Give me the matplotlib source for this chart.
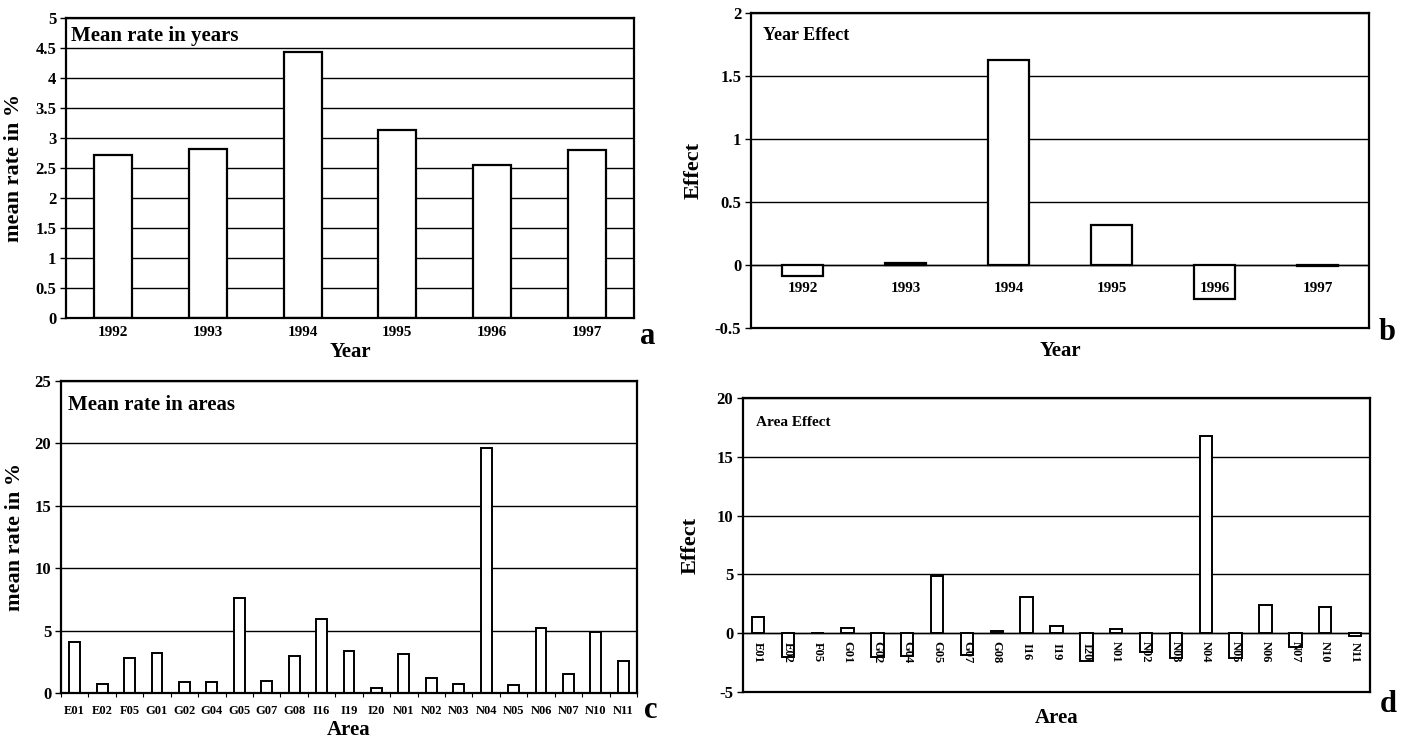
import numpy as np
import matplotlib.pyplot as plt

# data
years = ['1992', '1993', '1994', '1995', '1996', '1997']
year_mean = [2.72, 2.82, 4.44, 3.13, 2.55, 2.80]
year_effect = [-0.09, 0.015, 1.63, 0.32, -0.27, -0.01]

areas = ['E01', 'E02', 'F05', 'G01', 'G02', 'G04', 'G05', 'G07', 'G08', 'I16', 'I19',
         'I20', 'N01', 'N02', 'N03', 'N04', 'N05', 'N06', 'N07', 'N10', 'N11']
area_mean = [4.1, 0.75, 2.8, 3.2, 0.85, 0.9, 7.65, 0.95, 3.0, 5.9, 3.4,
             0.4, 3.1, 1.2, 0.7, 19.6, 0.65, 5.2, 1.55, 4.9, 2.55]
area_effect = [1.35, -2.05, 0.0, 0.4, -2.0, -1.95, 4.85, -1.85, 0.18, 3.1, 0.6,
               -2.4, 0.32, -1.6, -2.1, 16.8, -2.15, 2.4, -1.2, 2.2, -0.25]

plt.rcParams['font.family'] = ['Liberation Serif', 'DejaVu Serif']
plt.rcParams['font.weight'] = 'bold'

W, H = 1405, 741
fig = plt.figure(figsize=(W / 100, H / 100), dpi=100)


def box(x0, y0, x1, y1):
    # pixel box -> figure fraction
    return [x0 / W, 1 - y1 / H, (x1 - x0) / W, (y1 - y0) / H]


def style(ax, yticks):
    ax.set_yticks(yticks)
    ax.set_yticklabels([('%g' % v) for v in yticks], fontsize=12, fontweight='bold')
    ax.yaxis.grid(True, color='black', linewidth=1.0)
    ax.set_axisbelow(True)
    for s in ax.spines.values():
        s.set_linewidth(1.6)
    ax.tick_params(axis='y', length=4, width=1, pad=3)


# ---- a: mean rate in years
ax = fig.add_axes(box(66, 18, 634, 318))
x = np.arange(len(years))
ax.bar(x, year_mean, width=0.4, color='white', edgecolor='black', linewidth=1.6, zorder=2)
ax.set_xlim(-0.5, len(years) - 0.5)
ax.set_ylim(0, 5)
style(ax, np.arange(0, 5.01, 0.5))
ax.set_xticks(x)
ax.set_xticklabels(years, fontsize=11, fontweight='bold')
ax.tick_params(axis='x', length=0, pad=6)
ax.set_xlabel('Year', fontsize=15, fontweight='bold', labelpad=2)
ax.set_ylabel('mean rate in %', fontsize=16, fontweight='bold')
ax.yaxis.set_label_coords(-0.074, 0.5)
ax.text(0.008, 0.975, 'Mean rate in years', transform=ax.transAxes, fontsize=15,
        fontweight='bold', va='top', ha='left')
fig.text(648 / W, 1 - 337 / H, 'a', fontsize=22, fontweight='bold', ha='center', va='center')

# ---- b: year effect
ax = fig.add_axes(box(751, 13, 1369, 328))
ax.bar(x, year_effect, width=0.4, color='white', edgecolor='black', linewidth=1.6, zorder=2)
ax.set_xlim(-0.5, len(years) - 0.5)
ax.set_ylim(-0.5, 2)
style(ax, np.arange(-0.5, 2.01, 0.5))
ax.axhline(0, color='black', linewidth=1.0, zorder=1)
ax.set_xticks(np.arange(-0.5, len(years), 1.0))
ax.set_xticklabels([])
ax.tick_params(axis='x', length=0)
for i, lab in enumerate(years):
    ax.text(i, -0.19, lab, fontsize=11, fontweight='bold', ha='center', va='center', zorder=3)
ax.set_xlabel('Year', fontsize=15, fontweight='bold', labelpad=6)
ax.set_ylabel('Effect', fontsize=16, fontweight='bold')
ax.yaxis.set_label_coords(-0.077, 0.5)
ax.text(0.02, 0.955, 'Year Effect', transform=ax.transAxes, fontsize=13,
        fontweight='bold', va='top', ha='left')
fig.text(1387 / W, 1 - 332 / H, 'b', fontsize=22, fontweight='bold', ha='center', va='center')

# ---- c: mean rate in areas
ax = fig.add_axes(box(61, 381, 637, 693))
xa = np.arange(len(areas))
ax.bar(xa, area_mean, width=0.4, color='white', edgecolor='black', linewidth=1.4, zorder=2)
ax.set_xlim(-0.5, len(areas) - 0.5)
ax.set_ylim(0, 25)
style(ax, np.arange(0, 25.1, 5))
ax.set_xticks(xa)
ax.set_xticklabels(areas, fontsize=9, fontweight='bold')
ax.set_xticks(np.arange(-0.5, len(areas), 1.0), minor=True)
ax.tick_params(axis='x', which='major', length=0, pad=9)
ax.tick_params(axis='x', which='minor', length=3, width=0.8)
ax.set_xlabel('Area', fontsize=15, fontweight='bold', labelpad=2)
ax.set_ylabel('mean rate in %', fontsize=16, fontweight='bold')
ax.yaxis.set_label_coords(-0.062, 0.5)
ax.text(0.012, 0.955, 'Mean rate in areas', transform=ax.transAxes, fontsize=15,
        fontweight='bold', va='top', ha='left')
fig.text(651 / W, 1 - 710 / H, 'c', fontsize=22, fontweight='bold', ha='center', va='center')

# ---- d: area effect
ax = fig.add_axes(box(743, 398, 1370, 692))
ax.bar(xa, area_effect, width=0.42, color='white', edgecolor='black', linewidth=1.4, zorder=2)
ax.set_xlim(-0.5, len(areas) - 0.5)
ax.set_ylim(-5, 20)
style(ax, np.arange(-5, 20.1, 5))
ax.axhline(0, color='black', linewidth=1.0, zorder=1)
ax.set_xticks(np.arange(-0.5, len(areas), 1.0))
ax.set_xticklabels([])
ax.tick_params(axis='x', length=0)
for i, lab in enumerate(areas):
    ax.text(i, -1.6, lab, fontsize=9, fontweight='bold', ha='center', va='center',
            rotation=270, zorder=3)
ax.set_xlabel('Area', fontsize=15, fontweight='bold', labelpad=8)
ax.set_ylabel('Effect', fontsize=16, fontweight='bold')
ax.yaxis.set_label_coords(-0.068, 0.5)
ax.text(0.02, 0.94, 'Area Effect', transform=ax.transAxes, fontsize=11,
        fontweight='bold', va='top', ha='left')
fig.text(1388 / W, 1 - 705 / H, 'd', fontsize=22, fontweight='bold', ha='center', va='center')

fig.savefig('out.png', dpi=100)
